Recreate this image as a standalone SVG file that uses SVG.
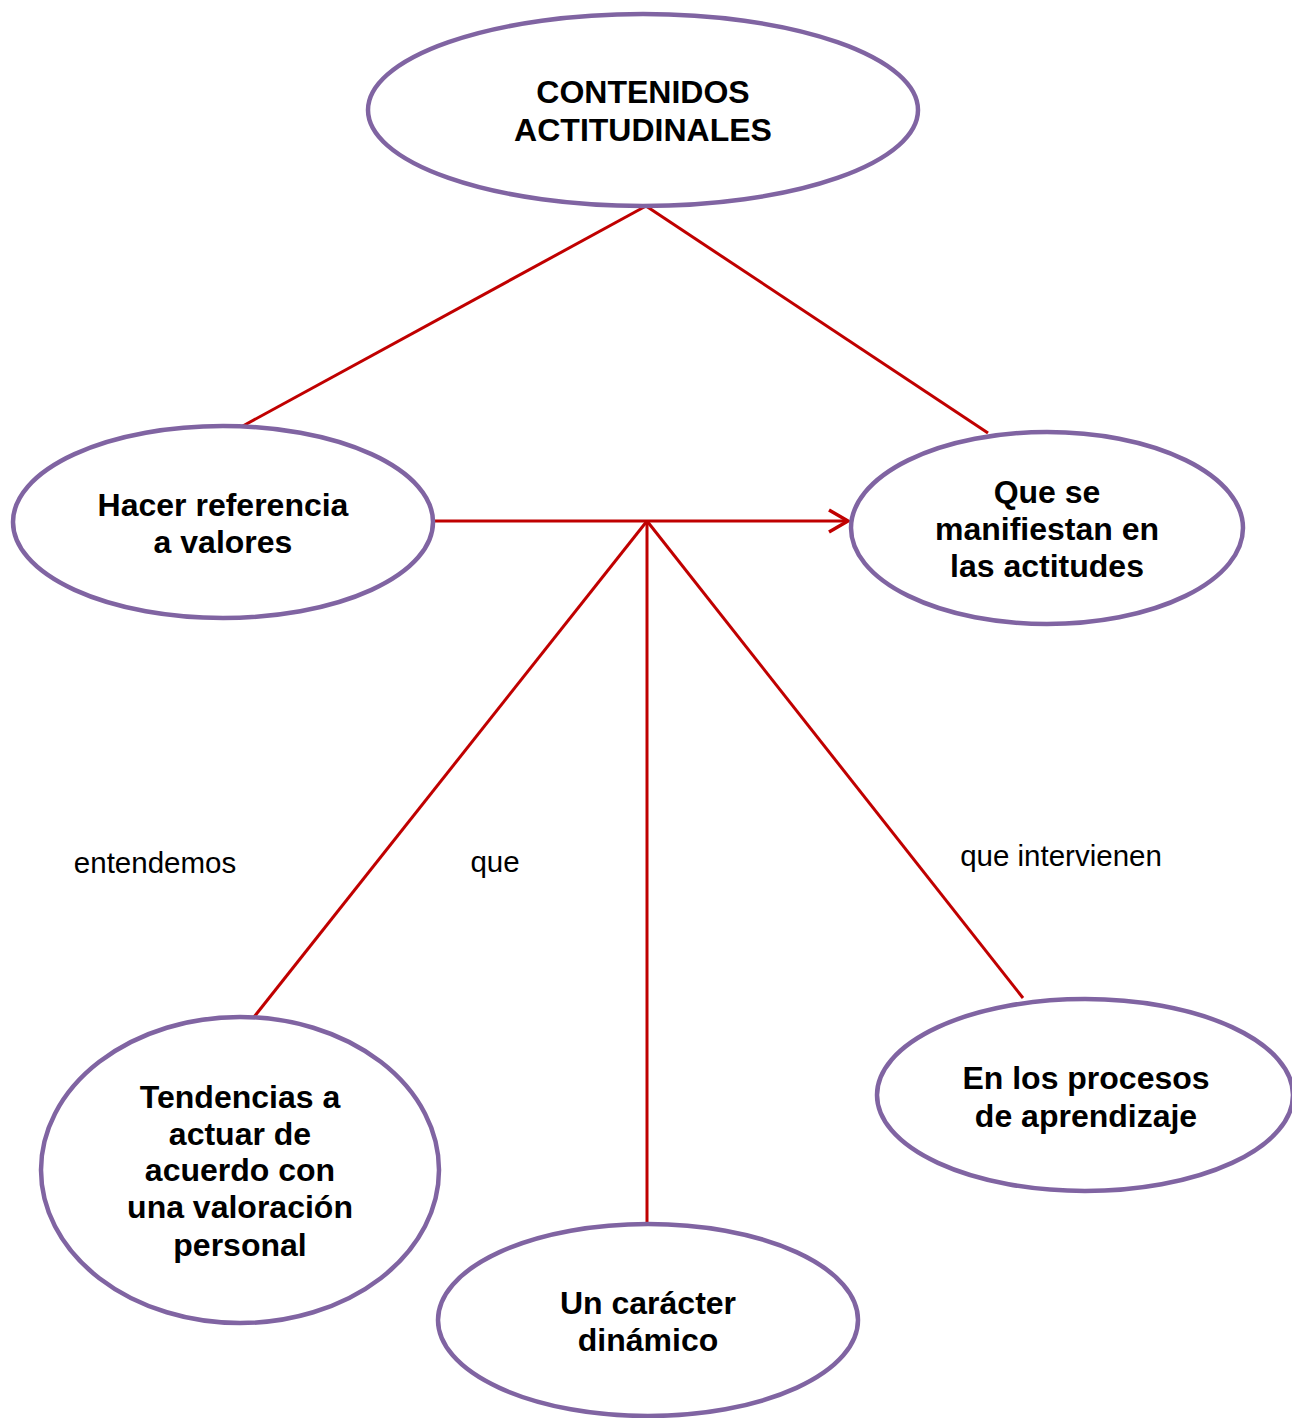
<svg xmlns="http://www.w3.org/2000/svg" width="1292" height="1418" viewBox="0 0 1292 1418">
  <defs>
    <style>
      .node { fill: #ffffff; stroke: #8064A2; stroke-width: 4.5; }
      .node-text { font-family: "Liberation Sans", Arial, sans-serif; font-weight: bold; font-size: 32px; fill: #000000; text-anchor: middle; }
      .link { stroke: #C00000; stroke-width: 3; fill: none; }
      .label { font-family: "Liberation Sans", Arial, sans-serif; font-size: 29.5px; fill: #000000; text-anchor: middle; }
    </style>
    <marker id="arrow-open" markerUnits="userSpaceOnUse" markerWidth="30" markerHeight="30" viewBox="0 0 30 30" refX="27" refY="15" orient="auto">
      <path d="M8,4 L27,15 L8,26" fill="none" stroke="#C00000" stroke-width="3.5"/>
    </marker>
  </defs>

  <rect width="1292" height="1418" fill="#ffffff"/>

  <!-- connectors -->
  <g id="connectors">
    <line class="link" x1="646" y1="206" x2="241" y2="427"/>
    <line class="link" x1="646" y1="206" x2="988" y2="433"/>
    <line class="link" x1="433" y1="521" x2="848" y2="521" marker-end="url(#arrow-open)"/>
    <line class="link" x1="647" y1="521" x2="254" y2="1017"/>
    <line class="link" x1="647" y1="521" x2="647" y2="1223"/>
    <line class="link" x1="647" y1="521" x2="1023" y2="998"/>
  </g>

  <!-- connector labels -->
  <g id="labels">
    <text class="label" x="155" y="873">entendemos</text>
    <text class="label" x="495" y="872">que</text>
    <text class="label" x="1061" y="866">que intervienen</text>
  </g>

  <g id="node-contenidos">
    <ellipse class="node" cx="643" cy="110" rx="275" ry="96"/>
    <text class="node-text" x="643" y="103">CONTENIDOS</text>
    <text class="node-text" x="643" y="141">ACTITUDINALES</text>
  </g>

  <g id="node-valores">
    <ellipse class="node" cx="223" cy="522" rx="210" ry="96"/>
    <text class="node-text" x="223" y="516">Hacer referencia</text>
    <text class="node-text" x="223" y="553">a valores</text>
  </g>

  <g id="node-actitudes">
    <ellipse class="node" cx="1047" cy="528" rx="196" ry="96"/>
    <text class="node-text" x="1047" y="503">Que se</text>
    <text class="node-text" x="1047" y="540">manifiestan en</text>
    <text class="node-text" x="1047" y="577">las actitudes</text>
  </g>

  <g id="node-tendencias">
    <ellipse class="node" cx="240" cy="1170" rx="199" ry="153"/>
    <text class="node-text" x="240" y="1108">Tendencias a</text>
    <text class="node-text" x="240" y="1145">actuar de</text>
    <text class="node-text" x="240" y="1181">acuerdo con</text>
    <text class="node-text" x="240" y="1218">una valoración</text>
    <text class="node-text" x="240" y="1256">personal</text>
  </g>

  <g id="node-dinamico">
    <ellipse class="node" cx="648" cy="1320" rx="210" ry="96"/>
    <text class="node-text" x="648" y="1314">Un carácter</text>
    <text class="node-text" x="648" y="1351">dinámico</text>
  </g>

  <g id="node-aprendizaje">
    <ellipse class="node" cx="1085" cy="1095" rx="208" ry="96"/>
    <text class="node-text" x="1086" y="1089">En los procesos</text>
    <text class="node-text" x="1086" y="1127">de aprendizaje</text>
  </g>
</svg>
